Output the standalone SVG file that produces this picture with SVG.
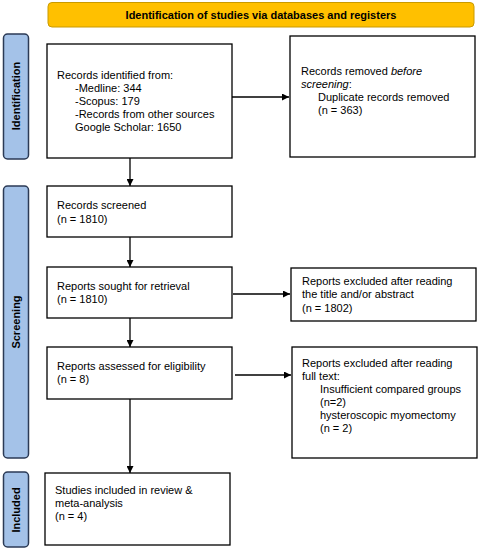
<svg xmlns="http://www.w3.org/2000/svg" width="481" height="550" viewBox="0 0 481 550">
<defs>
<marker id="ah" viewBox="0 0 10 10" refX="10" refY="5" markerWidth="7" markerHeight="7" markerUnits="userSpaceOnUse" orient="auto"><path d="M0,0 L10,5 L0,10 z" fill="#000"/></marker>
<style>
.box{fill:#fff;stroke:#000;stroke-width:1.3}
.side{fill:#A4C2E8;stroke:#2B3A55;stroke-width:1.5}
.t{font-family:"Liberation Sans",Arial,sans-serif;font-size:11px;fill:#000}
.b{font-family:"Liberation Sans",Arial,sans-serif;font-size:11px;font-weight:bold;fill:#000}
.c{stroke:#000;stroke-width:1.3;fill:none;marker-end:url(#ah)}
</style>
</defs>
<rect width="481" height="550" fill="#fff"/>
<g id="banner">
<rect x="48" y="2.5" width="426" height="24.5" rx="4" fill="#FFC000" stroke="#C99A00" stroke-width="1"/>
<text class="b" x="261" y="18.5" text-anchor="middle">Identification of studies via databases and registers</text>
</g>
<g id="side-identification">
<rect class="side" x="3.5" y="34" width="25" height="125" rx="4"/>
<text class="b" transform="translate(19.5,96) rotate(-90)" text-anchor="middle">Identification</text>
</g>
<g id="side-screening">
<rect class="side" x="3.5" y="186" width="25" height="272" rx="4"/>
<text class="b" transform="translate(19.5,322) rotate(-90)" text-anchor="middle">Screening</text>
</g>
<g id="side-included">
<rect class="side" x="3.5" y="472" width="25" height="75" rx="4"/>
<text class="b" transform="translate(19.5,510) rotate(-90)" text-anchor="middle">Included</text>
</g>
<g id="records-identified">
<rect class="box" x="47" y="44" width="185" height="114"/>
<text class="t" x="57" y="79">Records identified from:</text>
<text class="t" x="75" y="92">-Medline: 344</text>
<text class="t" x="75" y="105">-Scopus: 179</text>
<text class="t" x="75" y="118">-Records from other sources</text>
<text class="t" x="75" y="131">Google Scholar: 1650</text>
</g>
<g id="records-removed">
<rect class="box" x="290" y="36" width="185" height="121"/>
<text class="t" x="301" y="75">Records removed <tspan font-style="italic">before</tspan></text>
<text class="t" x="301" y="88"><tspan font-style="italic">screening</tspan>:</text>
<text class="t" x="318" y="101">Duplicate records removed</text>
<text class="t" x="318" y="114">(n = 363)</text>
</g>
<g id="records-screened">
<rect class="box" x="47" y="186" width="185" height="51"/>
<text class="t" x="57" y="209">Records screened</text>
<text class="t" x="57" y="223">(n = 1810)</text>
</g>
<g id="reports-sought">
<rect class="box" x="47" y="267" width="185" height="51"/>
<text class="t" x="57" y="290">Reports sought for retrieval</text>
<text class="t" x="57" y="303">(n = 1810)</text>
</g>
<g id="reports-excluded-abstract">
<rect class="box" x="291" y="268" width="185" height="53"/>
<text class="t" x="302" y="285">Reports excluded after reading</text>
<text class="t" x="302" y="298">the title and/or abstract</text>
<text class="t" x="302" y="312">(n = 1802)</text>
</g>
<g id="reports-assessed">
<rect class="box" x="47" y="347" width="185" height="52"/>
<text class="t" x="57" y="370">Reports assessed for eligibility</text>
<text class="t" x="57" y="383">(n = 8)</text>
</g>
<g id="reports-excluded-fulltext">
<rect class="box" x="292" y="347" width="185" height="111"/>
<text class="t" x="302" y="367">Reports excluded after reading</text>
<text class="t" x="302" y="380">full text:</text>
<text class="t" x="320" y="393">Insufficient compared groups</text>
<text class="t" x="320" y="406">(n=2)</text>
<text class="t" x="320" y="419">hysteroscopic myomectomy</text>
<text class="t" x="320" y="432">(n = 2)</text>
</g>
<g id="studies-included">
<rect class="box" x="45" y="473" width="185" height="72"/>
<text class="t" x="55" y="494">Studies included in review &amp;</text>
<text class="t" x="55" y="507">meta-analysis</text>
<text class="t" x="55" y="520">(n = 4)</text>
</g>
<g id="connectors">
<line class="c" x1="232" y1="97" x2="289" y2="97"/>
<line class="c" x1="130" y1="158" x2="130" y2="186"/>
<line class="c" x1="130" y1="237" x2="130" y2="267"/>
<line class="c" x1="233" y1="294" x2="290" y2="294"/>
<line class="c" x1="130" y1="318" x2="130" y2="347"/>
<line class="c" x1="235" y1="375" x2="291" y2="375"/>
<line class="c" x1="130" y1="399" x2="130" y2="473"/>
</g>
</svg>
